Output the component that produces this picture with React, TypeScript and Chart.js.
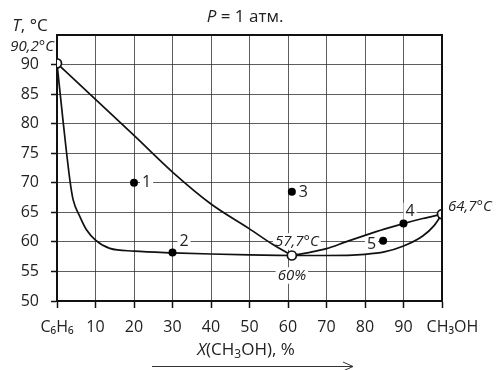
import React, { useEffect, useRef } from 'react';
import { Chart, registerables } from 'chart.js';

Chart.register(...registerables);

// ---- data ----
const xTickValues = [0, 10, 20, 30, 40, 50, 60, 70, 80, 90, 100];
const firstTickLabel = 'C₆H₆';
const lastTickLabel = '     CH₃OH';

// vapour (dew) curve, benzene side
const vapLeftX = [0, 10, 20, 30, 40, 50, 56, 61];
const vapLeftY = [90.2, 84.1, 78.0, 71.8, 66.4, 62.2, 59.6, 57.7];
// liquid (boiling) curve, benzene side
const liqLeftX = [0, 1.6, 3.4, 4.2, 6, 7.7, 10, 13.7, 20, 30, 40, 50, 61];
const liqLeftY = [90.2, 80.3, 70.2, 67.1, 64.2, 62.0, 60.3, 58.9, 58.45, 58.15, 57.95, 57.8, 57.7];
// vapour curve, methanol side
const vapRightX = [61, 65, 70, 75, 80, 85, 90, 95, 100];
const vapRightY = [57.7, 58.15, 58.85, 60.0, 61.1, 62.15, 63.1, 63.95, 64.7];
// liquid curve, methanol side
const liqRightX = [61, 70, 80, 85, 90, 95, 98, 100];
const liqRightY = [57.7, 57.7, 57.9, 58.3, 59.3, 61.0, 62.8, 64.7];

// numbered state points
const stateX = [20, 30, 61, 90, 84.7];
const stateY = [70, 58.2, 68.5, 63.1, 60.2];
const stateLabels = ['1', '2', '3', '4', '5'];

// special points: pure benzene, azeotrope, pure methanol
const specialX = [0, 61, 100];
const specialY = [90.2, 57.7, 64.7];

const FONT = "'Open Sans', 'DejaVu Sans', sans-serif";

const zip = (xs: number[], ys: number[]) => xs.map((x, i) => ({ x, y: ys[i] }));

type Run = { t: string; italic?: boolean; sub?: boolean };

function runFont(r: Run, size: number) {
  const s = r.sub ? Math.round(size * 0.7) : size;
  return `${r.italic ? 'italic ' : ''}${s}px ${FONT}`;
}

function drawRuns(
  ctx: CanvasRenderingContext2D,
  runs: Run[],
  x: number,
  y: number,
  align: 'left' | 'center' | 'right',
  size: number,
  box = false
) {
  ctx.save();
  ctx.textBaseline = 'middle';
  ctx.textAlign = 'left';
  let w = 0;
  const widths = runs.map((r) => {
    ctx.font = runFont(r, size);
    const m = ctx.measureText(r.t).width;
    w += m;
    return m;
  });
  let cx = align === 'left' ? x : align === 'center' ? x - w / 2 : x - w;
  if (box) {
    ctx.fillStyle = '#fff';
    ctx.fillRect(cx - 2, y - size * 0.55, w + 4, size * 1.1);
  }
  ctx.fillStyle = '#222';
  runs.forEach((r, i) => {
    ctx.font = runFont(r, size);
    ctx.fillText(r.t, cx, r.sub ? y + size * 0.28 : y);
    cx += widths[i];
  });
  ctx.restore();
}

const annotations = {
  id: 'annotations',
  beforeDatasetsDraw(chart: any) {
    const { ctx, scales } = chart;
    const sx = scales.x;
    const sy = scales.y;
    const px = (v: number) => sx.getPixelForValue(v);
    const py = (v: number) => sy.getPixelForValue(v);
    // numbered point labels: [dx, dy, align]
    const offs: [number, number, 'left' | 'center' | 'right'][] = [
      [8, 0, 'left'],
      [7, -11, 'left'],
      [7, 1, 'left'],
      [2, -12, 'left'],
      [-7, 4, 'right'],
    ];
    stateLabels.forEach((lab, i) => {
      const [dx, dy, al] = offs[i];
      drawRuns(ctx, [{ t: lab }], px(stateX[i]) + dx, py(stateY[i]) + dy, al, 16, true);
    });
    // azeotrope labels
    drawRuns(ctx, [{ t: '57,7°C', italic: true }], px(specialX[1]) + 5, py(specialY[1]) - 14, 'center', 15, true);
    drawRuns(ctx, [{ t: '60%', italic: true }], px(specialX[1]), py(specialY[1]) + 20, 'center', 15, true);
  },
  afterDraw(chart: any) {
    const { ctx, chartArea, scales } = chart;
    const sx = scales.x;
    const sy = scales.y;
    // frame top and right
    ctx.save();
    ctx.strokeStyle = '#111';
    ctx.lineWidth = 2;
    ctx.beginPath();
    ctx.moveTo(chartArea.left, chartArea.top);
    ctx.lineTo(chartArea.right, chartArea.top);
    ctx.lineTo(chartArea.right, chartArea.bottom);
    ctx.stroke();
    ctx.restore();
    // endpoint labels
    drawRuns(ctx, [{ t: '90,2°C', italic: true }], sx.getPixelForValue(specialX[0]) - 3, sy.getPixelForValue(specialY[0]) - 17, 'right', 15);
    drawRuns(ctx, [{ t: '64,7°C', italic: true }], sx.getPixelForValue(specialX[2]) + 6, sy.getPixelForValue(specialY[2]) - 7, 'left', 15);
    // titles
    drawRuns(ctx, [{ t: 'P', italic: true }, { t: ' = 1 атм.' }], 245, 17, 'center', 17);
    drawRuns(ctx, [{ t: 'T', italic: true }, { t: ', °C' }], 30, 26, 'center', 17);
    drawRuns(
      ctx,
      [{ t: 'X', italic: true }, { t: '(CH' }, { t: '3', sub: true }, { t: 'OH), %' }],
      246,
      350,
      'center',
      17
    );
    // arrow under the axis title
    ctx.save();
    ctx.strokeStyle = '#333';
    ctx.lineWidth = 1;
    ctx.beginPath();
    ctx.moveTo(152, 366.5);
    ctx.lineTo(353, 366.5);
    ctx.moveTo(343, 362);
    ctx.lineTo(353, 366.5);
    ctx.lineTo(343, 371);
    ctx.stroke();
    ctx.restore();
  },
};

export default function App() {
  const ref = useRef<HTMLCanvasElement | null>(null);

  useEffect(() => {
    document.body.style.margin = '0';
    const canvas = ref.current;
    if (!canvas) return;
    Chart.defaults.font.family = FONT;

    const lineStyle = {
      showLine: true,
      borderColor: '#111',
      borderWidth: 1.7,
      pointRadius: 0,
      pointHoverRadius: 0,
      cubicInterpolationMode: 'monotone' as const,
      fill: false,
      order: 2,
    };

    const chart = new Chart(canvas, {
      type: 'scatter',
      data: {
        datasets: [
          {
            label: 'special',
            data: zip(specialX, specialY),
            showLine: false,
            pointRadius: 4.5,
            pointBackgroundColor: '#fff',
            pointBorderColor: '#111',
            pointBorderWidth: 1.7,
            order: 0,
          },
          {
            label: 'states',
            data: zip(stateX, stateY),
            showLine: false,
            pointRadius: 4,
            pointBackgroundColor: '#000',
            pointBorderColor: '#000',
            pointBorderWidth: 0,
            order: 1,
          },
          { label: 'vapLeft', data: zip(vapLeftX, vapLeftY), ...lineStyle },
          { label: 'liqLeft', data: zip(liqLeftX, liqLeftY), ...lineStyle },
          { label: 'vapRight', data: zip(vapRightX, vapRightY), ...lineStyle },
          { label: 'liqRight', data: zip(liqRightX, liqRightY), ...lineStyle },
        ] as any,
      },
      options: {
        animation: false,
        responsive: false,
        maintainAspectRatio: false,
        devicePixelRatio: 1,
        layout: { padding: { top: 35, right: 54, left: 0, bottom: 0 } },
        plugins: {
          legend: { display: false },
          tooltip: { enabled: false },
          title: { display: false },
        },
        scales: {
          x: {
            type: 'linear',
            min: 0,
            max: 100,
            afterBuildTicks: (axis: any) => {
              axis.ticks = xTickValues.map((v) => ({ value: v }));
            },
            afterFit: (axis: any) => {
              axis.height = 69;
            },
            ticks: {
              color: '#222',
              font: { size: 16 },
              padding: 10,
              maxRotation: 0,
              autoSkip: false,
              callback: (v: any) =>
                v === 0 ? firstTickLabel : v === 100 ? lastTickLabel : String(v),
            },
            grid: {
              color: 'rgba(40,40,40,0.75)',
              lineWidth: 1,
              tickColor: '#111',
              tickLength: 7,
              tickWidth: 1.5,
            },
            border: { display: true, color: '#111', width: 2 },
          },
          y: {
            type: 'linear',
            min: 50,
            max: 95,
            afterFit: (axis: any) => {
              axis.width = 57;
            },
            ticks: {
              stepSize: 5,
              color: '#222',
              font: { size: 16 },
              padding: 12,
              callback: (v: any) => (v === 95 ? '' : String(v)),
            },
            grid: {
              color: 'rgba(40,40,40,0.75)',
              lineWidth: 1,
              tickColor: (c: any) => (c.tick && c.tick.value === 95 ? 'rgba(0,0,0,0)' : '#111'),
              tickLength: 6,
              tickWidth: 1.5,
            },
            border: { display: true, color: '#111', width: 2 },
          },
        },
      } as any,
      plugins: [annotations],
    });

    return () => chart.destroy();
  }, []);

  return (
    <div style={{ width: 496, height: 370, background: '#fff' }}>
      <canvas ref={ref} width={496} height={370} style={{ display: 'block', width: 496, height: 370 }} />
    </div>
  );
}
